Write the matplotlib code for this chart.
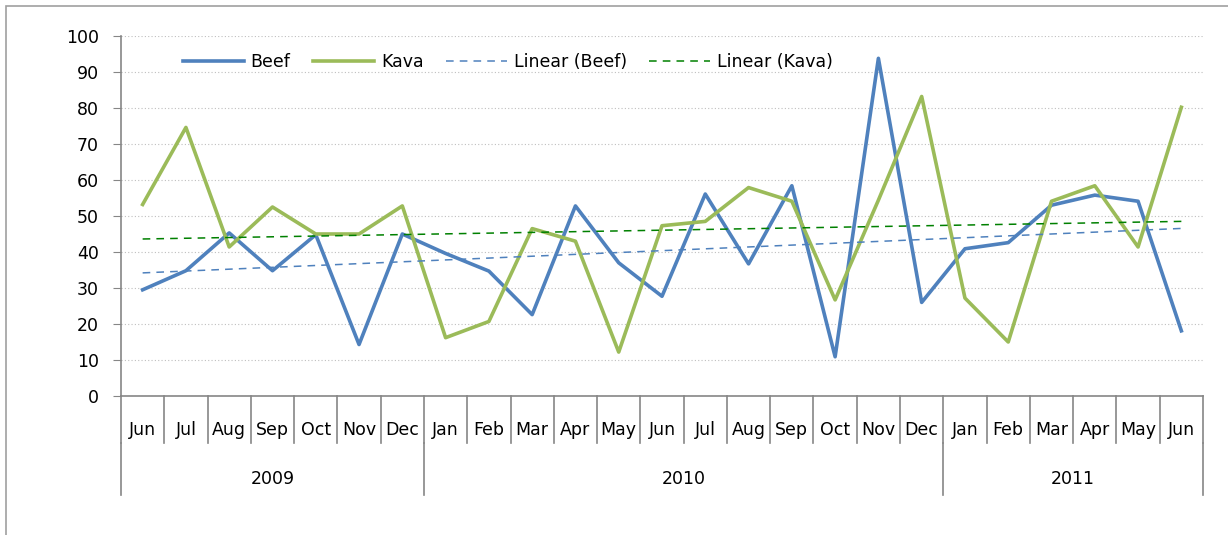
import numpy as np
import matplotlib
matplotlib.use("Agg")
import matplotlib.pyplot as plt
from matplotlib.transforms import blended_transform_factory
from matplotlib.patches import Rectangle

months = ['Jun', 'Jul', 'Aug', 'Sep', 'Oct', 'Nov', 'Dec',
          'Jan', 'Feb', 'Mar', 'Apr', 'May', 'Jun', 'Jul', 'Aug', 'Sep', 'Oct', 'Nov', 'Dec',
          'Jan', 'Feb', 'Mar', 'Apr', 'May', 'Jun']
years = ['2009', '2010', '2011']
year_counts = [7, 12, 6]
beef = [29.5, 34.8, 45.3, 34.8, 44.8, 14.3, 45.0,
        39.6, 34.7, 22.6, 52.8, 37.0, 27.7, 56.1, 36.7, 58.4, 10.9, 93.8, 26.0,
        40.9, 42.6, 53.0, 55.8, 54.1, 18.1]
kava = [53.2, 74.6, 41.4, 52.5, 45.0, 45.0, 52.8,
        16.2, 20.7, 46.5, 43.0, 12.2, 47.3, 48.5, 57.9, 54.1, 26.7, 54.4, 83.2,
        27.2, 15.0, 54.1, 58.4, 41.4, 80.2]

blue = '#4F81BD'
green = '#9BBB59'
axis_gray = '#868686'
plt.rcParams['font.family'] = ['DejaVu Sans']

W, H = 1228, 535
fig = plt.figure(figsize=(W / 100, H / 100), dpi=100)
fig.patches.append(Rectangle((6 / W, -0.1), 1.2, 1 - 6 / H + 0.1, transform=fig.transFigure,
                             fill=False, edgecolor='#A0A0A0', linewidth=1.2))
# plot area: x 121..1203, y 36..396 (pixels)
ah = 360
ax = fig.add_axes([121 / W, 1 - 396 / H, 1082 / W, ah / H])

x = np.arange(len(months))
ax.plot(x, beef, color=blue, lw=2.6, label='Beef')
ax.plot(x, kava, color=green, lw=2.6, label='Kava')
pb = np.polyfit(x, beef, 1)
pk = np.polyfit(x, kava, 1)
ax.plot(x, np.polyval(pb, x), color=blue, lw=1.1, ls=(0, (5, 4)), label='Linear (Beef)')
ax.plot(x, np.polyval(pk, x), color='#008000', lw=1.1, ls=(0, (5, 4)), label='Linear (Kava)')

ax.set_xlim(-0.5, len(months) - 0.5)
ax.set_ylim(0, 100)
ax.set_yticks(range(0, 101, 10))
ax.yaxis.grid(True, color='#BFBFBF', ls=(0, (1, 2)), lw=0.8)
ax.set_axisbelow(True)
for s in ['top', 'right']:
    ax.spines[s].set_visible(False)
for s in ['left', 'bottom']:
    ax.spines[s].set_color(axis_gray)
    ax.spines[s].set_linewidth(1.2)
ax.tick_params(axis='y', length=6, color=axis_gray, labelsize=12.5, pad=10)
ax.set_xticks([])

# two-level category axis
tr = blended_transform_factory(ax.transData, ax.transAxes)
for b in np.arange(len(months) + 1) - 0.5:
    ax.plot([b, b], [0, -47 / ah], transform=tr, color=axis_gray, lw=1.2, clip_on=False)
for i, m in enumerate(months):
    ax.text(i, -34 / ah, m, transform=tr, ha='center', va='center', fontsize=12.5, clip_on=False)
edges = [-0.5]
for c in year_counts:
    edges.append(edges[-1] + c)
for e in edges:
    ax.plot([e, e], [-47 / ah, -99 / ah], transform=tr, color=axis_gray, lw=1.2, clip_on=False)
for y, a, b in zip(years, edges[:-1], edges[1:]):
    ax.text((a + b) / 2, -83 / ah, y, transform=tr, ha='center', va='center', fontsize=12.5, clip_on=False)

ax.legend(loc='center left', bbox_to_anchor=(62 / 1082, (396 - 62) / ah), ncol=4, frameon=False,
          fontsize=12.5, handlelength=3.5, handletextpad=0.4, columnspacing=1.3, borderpad=0,
          borderaxespad=0)

fig.savefig('out.png', dpi=100)
